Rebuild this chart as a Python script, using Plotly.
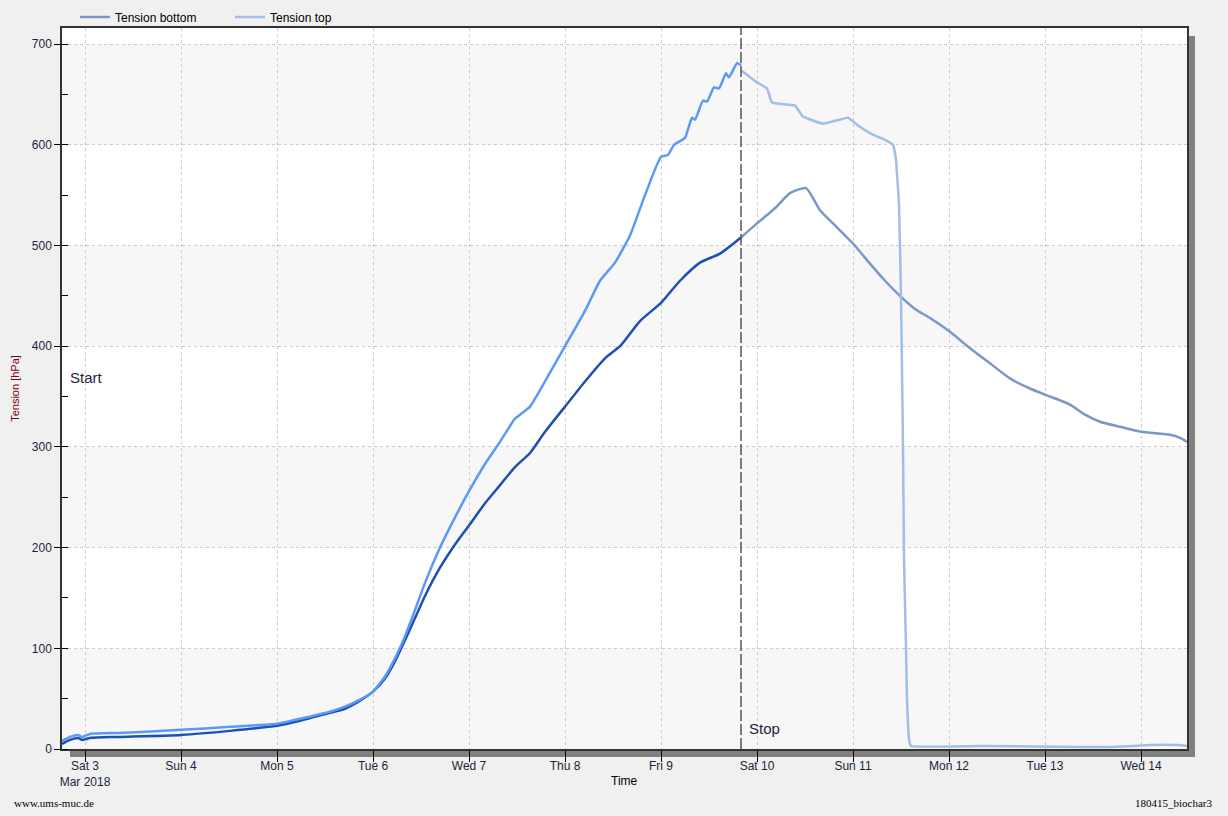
import pandas as pd
import plotly.graph_objects as go

# Logger record: hours elapsed since 2018-03-02 18:15, tension in hPa
BASE_TIME = pd.Timestamp("2018-03-02 18:15")
STOP_HOURS = 169.75  # end of the drying run (Mar 9, 20:00)

# Tension bottom, during the run
bottom_run_h = [0, 2, 4, 5, 7, 14.5, 29.75, 42, 53.75, 59.5, 67, 70.75, 74.5, 77.75,
                80.75, 83.25, 85.75, 88.25, 90.75, 94.5, 98.25, 101.75, 105.75, 109.5,
                113.25, 117, 120.75, 125.75, 130.75, 135.75, 139.5, 144.5, 149.75,
                154.5, 159.5, 164.5, 169.75]
bottom_run_v = [5, 9, 11, 9, 11, 12, 14, 18, 23, 28, 36, 40, 48, 57,
                70, 87, 108, 130, 152, 180, 203, 222, 244, 262,
                280, 294, 315, 340, 365, 388, 400, 425, 443,
                465, 483, 492, 508]

# Tension bottom, after the stop
bottom_after_h = [169.75, 173.75, 178.25, 182, 186, 189.5, 193.25, 197.75, 202, 205.75,
                  209.5, 213.25, 217, 221.75, 227, 232, 237, 242, 245.75, 252,
                  255.75, 259.5, 264.5, 269.75, 277, 279.5, 281.25]
bottom_after_v = [508, 522, 537, 552, 557, 535, 520, 502, 482, 465,
                  450, 437, 428, 415, 398, 383, 368, 358, 352, 342,
                  332, 325, 320, 315, 312, 309, 305]

# Tension top, during the run
top_run_h = [0, 2, 4, 5, 7, 14.5, 29.75, 42, 53.75, 59.5, 67, 70.75, 74.5, 77.75,
             80.75, 83.25, 85.75, 88.25, 90.75, 94.5, 98.25, 101.75, 105.75, 109.5,
             113.25, 117, 120.75, 125.75, 130.75, 134.5, 138.25, 142, 145.75, 149.75,
             151.5, 153, 155.75, 157.5, 158.25, 160.25, 161.25, 163, 164.25, 166,
             166.75, 168.75, 169.75]
top_run_v = [8, 12, 14, 12, 15, 16, 19, 22, 25, 30, 37, 42, 49, 57,
             72, 90, 112, 138, 165, 200, 230, 256, 283, 305,
             328, 340, 365, 400, 435, 465, 483, 510, 550, 588,
             590, 600, 607, 627, 625, 644, 643, 657, 656, 671,
             667, 681, 679]

# Tension top, after the stop
top_after_h = [169.75, 173.75, 176.25, 177.5, 183.25, 185.25, 190.25, 194.5, 196.5,
               198.75, 202.75, 205.75, 207.75, 208.5, 209.25, 209.75, 210.25, 210.5,
               211, 211.25, 211.75, 212.25, 230, 255, 262, 268, 272, 279, 281.25]
top_after_v = [674, 662, 656, 642, 639, 628, 621, 625, 627,
               620, 610, 605, 600, 585, 540, 450, 300, 190,
               100, 50, 10, 3, 3, 2, 2, 3, 4, 4, 3]

day_ticks = pd.date_range("2018-03-03", "2018-03-14", freq="D")
day_labels = ["Sat 3<br>Mar 2018", "Sun 4", "Mon 5", "Tue 6", "Wed 7", "Thu 8",
              "Fri 9", "Sat 10", "Sun 11", "Mon 12", "Tue 13", "Wed 14"]
y_ticks = [0, 100, 200, 300, 400, 500, 600, 700]


def to_time(hours):
    return BASE_TIME + pd.to_timedelta(hours, unit="h")


COL_BOTTOM = "#1f4fb0"
COL_TOP = "#5a9af6"
COL_BOTTOM_FADED = "#7b97c8"
COL_TOP_FADED = "#a3bee6"
SANS = "Liberation Sans, Arial, sans-serif"

fig = go.Figure()
fig.add_trace(go.Scatter(x=to_time(bottom_run_h), y=bottom_run_v, mode="lines",
                         line=dict(color=COL_BOTTOM, width=2.5, shape="spline", smoothing=0.6),
                         showlegend=False))
fig.add_trace(go.Scatter(x=to_time(bottom_after_h), y=bottom_after_v, mode="lines",
                         name="Tension bottom", legend="legend",
                         line=dict(color=COL_BOTTOM_FADED, width=2.5, shape="spline",
                                   smoothing=0.6)))
fig.add_trace(go.Scatter(x=to_time(top_run_h), y=top_run_v, mode="lines",
                         line=dict(color=COL_TOP, width=2.5, shape="spline", smoothing=0.5),
                         showlegend=False))
fig.add_trace(go.Scatter(x=to_time(top_after_h), y=top_after_v, mode="lines",
                         name="Tension top", legend="legend2",
                         line=dict(color=COL_TOP_FADED, width=2.5, shape="spline",
                                   smoothing=0.3)))

W, H = 1228, 816
ML, MR, MT, MB = 62, 41, 28, 67
PW, PH = W - ML - MR, H - MT - MB
SH = 8  # drop-shadow offset in px

shapes = [
    # drop shadow behind the plot frame
    dict(type="rect", xref="paper", yref="paper", layer="below",
         x0=SH / PW, x1=1 + SH / PW, y0=-SH / PH, y1=1 - SH / PH,
         fillcolor="#808080", line=dict(width=0)),
    # plot area
    dict(type="rect", xref="paper", yref="paper", layer="below",
         x0=0, x1=1, y0=0, y1=1, fillcolor="#ffffff", line=dict(width=0)),
]
# alternating horizontal bands
for lo in (0, 200, 400, 600):
    shapes.append(dict(type="rect", xref="x domain", yref="y", layer="below",
                       x0=0, x1=1, y0=lo, y1=lo + 100,
                       fillcolor="#f7f7f7", line=dict(width=0)))
# stop marker
stop_time = to_time(STOP_HOURS)
shapes.append(dict(type="line", xref="x", yref="paper", x0=stop_time, x1=stop_time,
                   y0=0, y1=1, line=dict(color="#555555", width=1.5, dash="11px,3px")))

axis_font = dict(family=SANS, size=12, color="#1e1e3c")
legend_common = dict(orientation="h", yanchor="middle", y=1 + 11 / PH, xanchor="left",
                     bgcolor="rgba(0,0,0,0)", font=dict(family=SANS, size=12, color="#000000"),
                     itemwidth=30, borderwidth=0)


def px_x(px):
    """Horizontal page pixel -> paper fraction."""
    return (px - ML) / PW


def px_y(py):
    """Vertical page pixel -> paper fraction."""
    return (MT + PH - py) / PH


fig.update_layout(
    width=W, height=H,
    margin=dict(l=ML, r=MR, t=MT, b=MB, autoexpand=False),
    paper_bgcolor="#f0f0f0",
    plot_bgcolor="rgba(0,0,0,0)",
    shapes=shapes,
    showlegend=True,
    legend=dict(legend_common, x=px_x(75)),
    legend2=dict(legend_common, x=px_x(230)),
    xaxis=dict(
        type="date",
        range=[to_time(0), to_time(281.25)],
        tickvals=day_ticks, ticktext=day_labels,
        ticks="outside", ticklen=11, tickcolor="#000000", tickwidth=1,
        ticklabelstandoff=-6,
        showgrid=True, gridcolor="#cccccc", griddash="3px,3px", gridwidth=1,
        showline=True, linecolor="#333333", linewidth=1.5, mirror=True,
        zeroline=False, tickfont=axis_font,
    ),
    yaxis=dict(
        range=[0, 716],
        tickvals=y_ticks,
        ticks="outside", ticklen=6, tickcolor="#000000", tickwidth=1,
        minor=dict(dtick=50, tick0=0, ticks="inside", ticklen=6, tickcolor="#000000",
                   showgrid=False),
        showgrid=True, gridcolor="#cccccc", griddash="3px,3px", gridwidth=1,
        showline=True, linecolor="#333333", linewidth=1.5, mirror=True,
        zeroline=False, tickfont=axis_font,
        title=dict(text="Tension [hPa]", font=dict(family=SANS, size=11, color="#7a0020"),
                   standoff=10),
    ),
    annotations=[
        dict(text="Time", xref="paper", yref="paper", x=0.5, y=px_y(781),
             xanchor="center", yanchor="middle", showarrow=False,
             font=dict(family=SANS, size=12, color="#000000")),
        dict(text="Start", xref="paper", yref="y", x=0.005, y=369, xanchor="left",
             yanchor="middle", showarrow=False,
             font=dict(family=SANS, size=15, color="#1e1e3c")),
        dict(text="Stop", xref="x", yref="y", x=stop_time, y=20, xanchor="left",
             yanchor="middle", xshift=6, showarrow=False,
             font=dict(family=SANS, size=15, color="#1e1e3c")),
        dict(text="www.ums-muc.de", xref="paper", yref="paper", x=px_x(12),
             y=px_y(803), xanchor="left", yanchor="middle", showarrow=False,
             font=dict(family="Liberation Serif, Times New Roman, serif", size=11,
                       color="#000000")),
        dict(text="180415_biochar3", xref="paper", yref="paper", x=px_x(1214),
             y=px_y(803), xanchor="right", yanchor="middle", showarrow=False,
             font=dict(family="Liberation Serif, Times New Roman, serif", size=11,
                       color="#000000")),
    ],
)

fig.write_html("out.html")
